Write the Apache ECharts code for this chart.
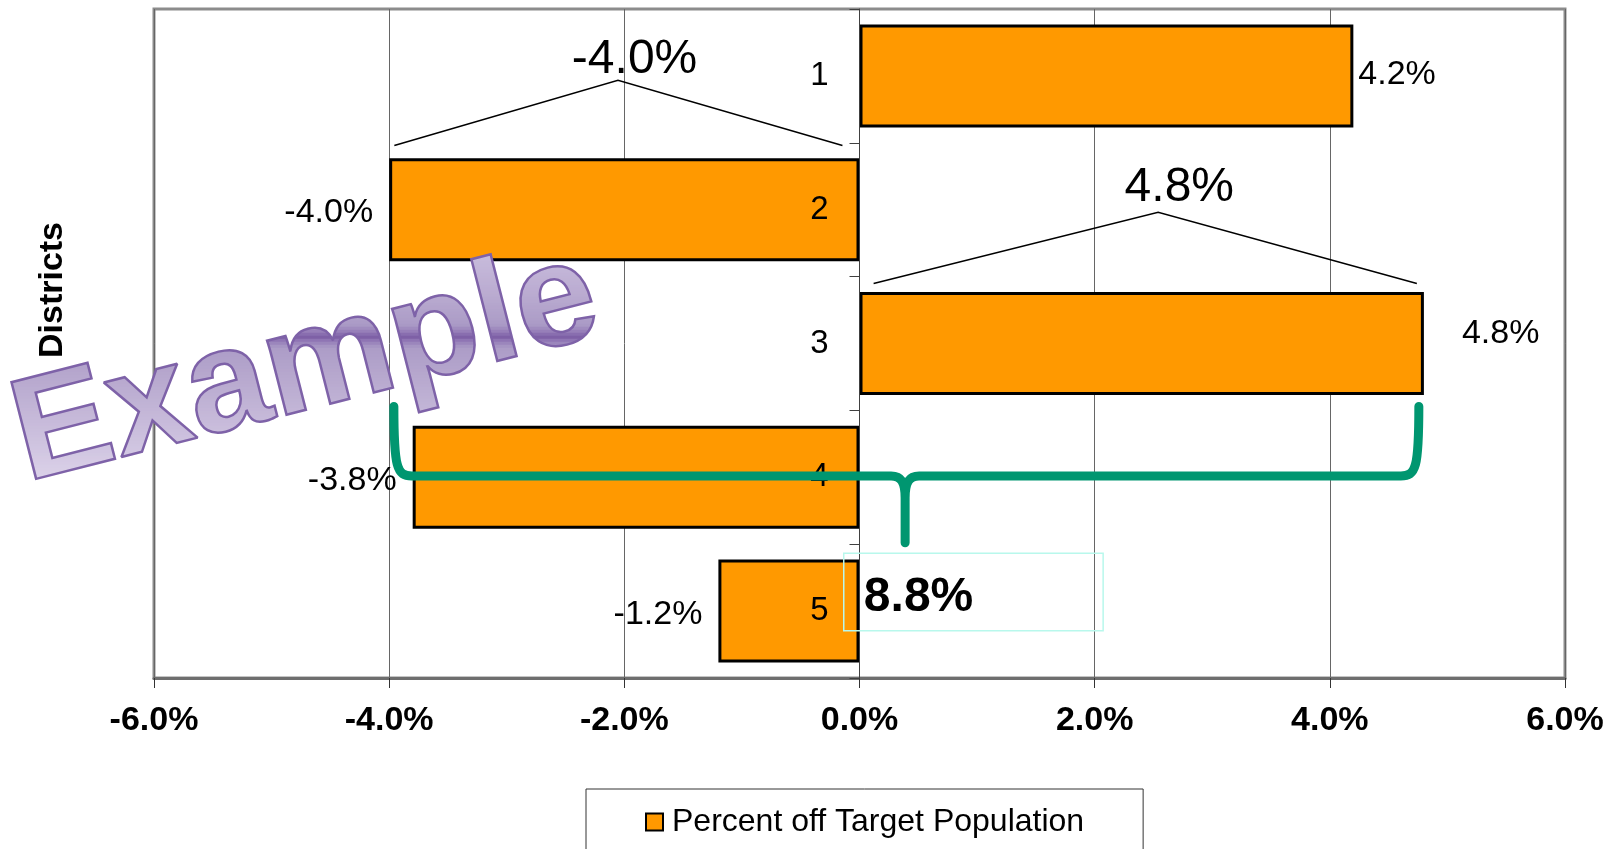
<!DOCTYPE html>
<html>
<head>
<meta charset="utf-8">
<script src="https://cdn.jsdelivr.net/npm/echarts@6/dist/echarts.min.js"></script>
<style>
html,body{margin:0;padding:0;background:#fff;}
#chart{width:1614px;height:849px;}
</style>
</head>
<body>
<div id="chart"></div>
<script>
// ---- data ----
const districts = ['1', '2', '3', '4', '5'];
const offTarget = [4.2, -4.0, 4.8, -3.8, -1.2];
const xTickValues = [-6, -4, -2, 0, 2, 4, 6];
const seriesName = 'Percent off Target Population';
const axisTitle = 'Districts';
const bracketTexts = ['-4.0%', '4.8%'];
const braceText = '8.8%';
const watermarkText = 'Example';

const FONT = '"Liberation Sans", Arial, sans-serif';
const pct = v => Number(v).toFixed(1) + '%';

const GRID = {left: 154, top: 9, width: 1411, height: 669};
const xMin = xTickValues[0], xMax = xTickValues[xTickValues.length - 1];
const zeroOffset = -GRID.width * (0 - xMin) / (xMax - xMin);

const labelTweaks = [
  {distance: 5, offset: [0, -1]},
  {distance: 16, offset: [0, 3]},
  {distance: 38, offset: [0, -10]},
  {distance: 16, offset: [0, 3]},
  {distance: 16, offset: [0, 4]}
];

const barData = offTarget.map((v, i) => ({
  value: v,
  label: {
    position: v >= 0 ? 'right' : 'left',
    distance: labelTweaks[i].distance,
    offset: labelTweaks[i].offset
  }
}));

// screen-vertical gradient of the watermark (offset from its centre, colour)
const wmStops = [
  [-142, '#d2c7e3'], [-72, '#b9aad0'], [-44, '#ab9bc6'], [-36, '#9279b6'],
  [-32, '#7b5ca4'], [-28, '#9279b6'], [-21, '#ac9cc7'], [8, '#b7a8ce'], [118, '#ded5eb']
];
function hexToRgb(h) {
  return [parseInt(h.slice(1, 3), 16), parseInt(h.slice(3, 5), 16), parseInt(h.slice(5, 7), 16)];
}
function wmColor(dy) {
  if (dy <= wmStops[0][0]) return wmStops[0][1];
  for (let i = 1; i < wmStops.length; i++) {
    if (dy <= wmStops[i][0]) {
      const t = (dy - wmStops[i - 1][0]) / (wmStops[i][0] - wmStops[i - 1][0]);
      const a = hexToRgb(wmStops[i - 1][1]), b = hexToRgb(wmStops[i][1]);
      return 'rgb(' + a.map((v, k) => Math.round(v + (b[k] - v) * t)).join(',') + ')';
    }
  }
  return wmStops[wmStops.length - 1][1];
}

function renderAnnotations(params, api) {
  const xp = v => api.coord([v, 0])[0];
  const y0 = api.coord([0, 0])[1];
  const y1 = api.coord([0, 1])[1];
  const step = y1 - y0;
  const yp = f => y0 + f * step;
  const children = [];

  // watermark: bands of solid colour clipped to horizontal screen strips
  const wmX = xp(-4.709), wmY = yp(2.188);
  const rot = 0.25, cs = Math.cos(rot), sn = Math.sin(rot);
  const toLocal = (dx, dy) => [dx * cs - dy * sn, dx * sn + dy * cs];
  const wmFont = {fontSize: 145, fontWeight: 'bold', fontFamily: FONT};
  const bandH = 3;
  for (let dy = -144; dy < 125; dy += bandH) {
    children.push({
      type: 'text',
      x: wmX, y: wmY, rotation: rot,
      style: Object.assign({text: watermarkText, x: 0, y: 0, align: 'center', verticalAlign: 'middle',
        fill: wmColor(dy + bandH / 2)}, wmFont),
      clipPath: {
        type: 'polygon',
        shape: {points: [toLocal(-450, dy), toLocal(450, dy), toLocal(450, dy + bandH + 0.6), toLocal(-450, dy + bandH + 0.6)]}
      }
    });
  }
  children.push({
    type: 'text',
    x: wmX, y: wmY, rotation: rot,
    style: Object.assign({text: watermarkText, x: 0, y: 0, align: 'center', verticalAlign: 'middle',
      fill: 'none', stroke: '#7e62a8', lineWidth: 2.5}, wmFont)
  });

  // bracket over district 2
  children.push({
    type: 'polyline',
    shape: {points: [[xp(-3.956), yp(0.52)], [xp(-2.054), yp(0.032)], [xp(-0.145), yp(0.52)]]},
    style: {stroke: '#000', lineWidth: 1.5, fill: null}
  });
  children.push({
    type: 'text',
    style: {text: bracketTexts[0], x: xp(-1.913), y: yp(-0.121), align: 'center', verticalAlign: 'middle',
      fontSize: 48, fontFamily: FONT, fill: '#000'}
  });
  // bracket over district 3
  children.push({
    type: 'polyline',
    shape: {points: [[xp(0.12), yp(1.552)], [xp(2.54), yp(1.02)], [xp(4.74), yp(1.552)]]},
    style: {stroke: '#000', lineWidth: 1.5, fill: null}
  });
  children.push({
    type: 'text',
    style: {text: bracketTexts[1], x: xp(2.72), y: yp(0.835), align: 'center', verticalAlign: 'middle',
      fontSize: 48, fontFamily: FONT, fill: '#000'}
  });

  // green curly brace
  const L = xp(-3.96), R = xp(4.757), D = xp(0.388);
  const T = yp(2.47), H = yp(2.99), B = yp(3.49);
  const path =
    'M' + L + ' ' + T +
    ' C' + L + ' ' + (H - 8) + ' ' + (L + 3) + ' ' + H + ' ' + (L + 18) + ' ' + H +
    ' L' + (D - 14) + ' ' + H +
    ' C' + (D - 4) + ' ' + H + ' ' + D + ' ' + (H + 6) + ' ' + D + ' ' + (H + 22) +
    ' L' + D + ' ' + B +
    ' M' + D + ' ' + (H + 22) +
    ' C' + D + ' ' + (H + 6) + ' ' + (D + 4) + ' ' + H + ' ' + (D + 14) + ' ' + H +
    ' L' + (R - 18) + ' ' + H +
    ' C' + (R - 3) + ' ' + H + ' ' + R + ' ' + (H - 8) + ' ' + R + ' ' + T;
  children.push({
    type: 'path',
    shape: {pathData: path},
    style: {stroke: '#009670', lineWidth: 9, fill: null, lineCap: 'round', lineJoin: 'round'}
  });

  // text box 8.8%
  const bx1 = xp(-0.134), bx2 = xp(2.072), by1 = yp(3.567), by2 = yp(4.147);
  children.push({
    type: 'rect',
    shape: {x: bx1, y: by1, width: bx2 - bx1, height: by2 - by1},
    style: {stroke: '#b8f8ec', lineWidth: 1.5, fill: null}
  });
  children.push({
    type: 'text',
    style: {text: braceText, x: xp(0.037), y: yp(3.90), align: 'left', verticalAlign: 'middle',
      fontSize: 48, fontWeight: 'bold', fontFamily: FONT, fill: '#000'}
  });

  return {type: 'group', children: children};
}

const chart = echarts.init(document.getElementById('chart'), null, {renderer: 'canvas'});
chart.setOption({
  animation: false,
  backgroundColor: '#fff',
  textStyle: {fontFamily: FONT},
  grid: {
    left: GRID.left, top: GRID.top, width: GRID.width, height: GRID.height,
    show: true, borderColor: '#8c8c8c', borderWidth: 3, backgroundColor: 'transparent',
    containLabel: false,
    outerBoundsMode: 'none'
  },
  legend: {
    data: [seriesName],
    left: 586, top: 789,
    padding: [17, 59, 28, 59],
    borderColor: '#333', borderWidth: 1,
    icon: 'rect',
    itemWidth: 17, itemHeight: 17,
    itemStyle: {borderColor: '#000', borderWidth: 2},
    textStyle: {fontSize: 32, color: '#000', fontFamily: FONT, padding: [0, 0, 0, 4]},
    selectedMode: false
  },
  xAxis: {
    type: 'value',
    min: xMin, max: xMax,
    interval: xTickValues[1] - xTickValues[0],
    position: 'bottom',
    axisLine: {show: true, onZero: false, lineStyle: {color: '#6e6e6e', width: 3}},
    axisTick: {show: true, length: 10, lineStyle: {color: '#333', width: 1}},
    axisLabel: {formatter: pct, fontSize: 34, fontWeight: 'bold', color: '#000', margin: 26, fontFamily: FONT},
    splitLine: {show: true, lineStyle: {color: '#666', width: 1}}
  },
  yAxis: {
    type: 'category',
    data: districts,
    inverse: true,
    position: 'left',
    offset: zeroOffset,
    z: 3,
    axisLine: {show: true, onZero: false, lineStyle: {color: '#404040', width: 1}},
    axisTick: {show: true, length: 10, lineStyle: {color: '#404040', width: 1}},
    axisLabel: {fontSize: 33, color: '#000', margin: 31, fontFamily: FONT, padding: [4, 0, 0, 0]},
    splitLine: {show: false},
    name: axisTitle,
    nameLocation: 'middle',
    nameRotate: 90,
    nameGap: 790,
    nameMoveOverlap: false,
    nameTextStyle: {fontSize: 34, fontWeight: 'bold', color: '#000', fontFamily: FONT, padding: [0, 0, 0, 107]}
  },
  series: [
    {
      name: seriesName,
      type: 'bar',
      data: barData,
      barCategoryGap: '23%',
      itemStyle: {color: '#ff9900', borderColor: '#000', borderWidth: 3},
      label: {show: true, formatter: p => pct(p.value), fontSize: 34, color: '#000', fontFamily: FONT}
    },
    {
      name: 'annotations',
      type: 'custom',
      coordinateSystem: 'cartesian2d',
      z: 6,
      silent: true,
      clip: false,
      data: [[0, 0]],
      renderItem: renderAnnotations
    }
  ]
});
</script>
</body>
</html>
